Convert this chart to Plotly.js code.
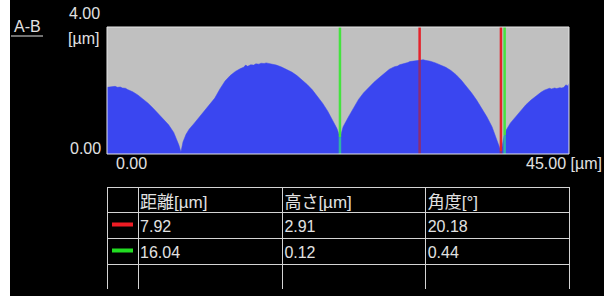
<!DOCTYPE html>
<html>
<head>
<meta charset="utf-8">
<script src="https://cdn.plot.ly/plotly-3.0.1.min.js"></script>
<style>
html,body{margin:0;padding:0;background:#ffffff;}
#chart{position:absolute;left:10px;top:0;width:594px;height:296px;}
</style>
</head>
<body>
<div id="chart"></div>
<script>
// Profile A-B (x in µm, height in µm)
const profileX = [0,0.3,0.5,0.8,1,1.3,1.5,1.8,2,2.5,3,3.5,4,4.5,5,5.5,6,6.5,6.8,7.0,7.2,7.4,7.7,8,8.5,9,9.5,10,10.5,11,11.5,12,12.5,13,13.3,13.5,13.7,14,14.3,14.5,14.8,15,15.3,15.5,15.8,16,16.3,16.5,17,17.5,18,18.5,19,19.5,20,20.5,21,21.5,22,22.4,22.7,23.0,23.5,24,24.5,25,25.5,26,26.5,27,27.5,28,28.3,28.5,28.8,29,29.3,29.5,29.8,30,30.3,30.5,30.8,31,31.3,31.5,32,32.5,33,33.5,34,34.5,35,35.5,36,36.5,37,37.5,37.9,38.2,38.4,38.6,38.9,39.3,39.8,40.3,40.8,41.3,41.8,42.1,42.3,42.6,42.8,43.1,43.3,43.6,43.8,44.1,44.3,44.5,44.7,44.9,45];
const profileY = [2.10,2.12,2.11,2.13,2.10,2.11,2.08,2.07,2.03,1.96,1.86,1.74,1.60,1.44,1.27,1.10,0.92,0.68,0.45,0.28,0.06,0.38,0.62,0.78,0.97,1.16,1.38,1.56,1.76,2.05,2.30,2.47,2.60,2.69,2.73,2.80,2.76,2.81,2.80,2.84,2.83,2.86,2.85,2.87,2.85,2.84,2.82,2.80,2.74,2.67,2.58,2.47,2.34,2.19,2.02,1.82,1.60,1.35,1.07,0.80,0.52,0.86,1.16,1.46,1.72,1.93,2.10,2.26,2.40,2.55,2.67,2.75,2.77,2.81,2.83,2.86,2.88,2.91,2.92,2.94,2.96,2.96,2.97,2.95,2.94,2.92,2.87,2.81,2.73,2.63,2.50,2.33,2.14,1.93,1.70,1.45,1.17,0.86,0.50,0.25,0.06,0.45,0.76,0.98,1.18,1.38,1.55,1.70,1.84,1.90,1.95,2.01,2.04,2.07,2.05,2.08,2.06,2.09,2.08,2.10,2.18,2.14,2.22,2.20];

// Cursor positions (µm)
const redCursors = [30.45, 38.37];
const greenCursors = [22.69, 38.73];

// Result table
const headers = ["", "距離[µm]", "高さ[µm]", "角度[°]"];
const rowDistance = ["7.92", "16.04", ""];
const rowHeight = ["2.91", "0.12", ""];
const rowAngle = ["20.18", "0.44", ""];

// Axis labels
const xRange = [0, 45];
const yRange = [0, 4];
const xMinLabel = "0.00", xMaxLabel = "45.00 [µm]";
const yMinLabel = "0.00", yMaxLabel = "4.00", yUnit = "[µm]";
const profileName = "A-B";

const W = 594, H = 296, ML = 97, MR = 35, MT = 27, MB = 7;
const PW = W - ML - MR, PH = H - MT - MB;
const plotBottomPx = 154, tableTopPx = 187;
const py = p => (H - MB - p) / PH;   // page y px -> paper
const px = p => (p - 10 - ML) / PW;  // page x px -> paper

function interp(x) {
  for (let i = 1; i < profileX.length; i++) {
    if (x <= profileX[i]) {
      const t = (x - profileX[i-1]) / (profileX[i] - profileX[i-1]);
      return profileY[i-1] + t * (profileY[i] - profileY[i-1]);
    }
  }
  return profileY[profileY.length - 1];
}

const textCol = '#e2e2e2';
const font = 'Liberation Sans, Arial, Noto Sans CJK JP, sans-serif';

const shapes = [];
function cursor(x, top, inner) {
  const v = interp(x);
  shapes.push({type:'line', xref:'x', yref:'y', x0:x, x1:x, y0:v, y1:yRange[1], line:{color:top, width:2.5}});
  shapes.push({type:'line', xref:'x', yref:'y', x0:x, x1:x, y0:yRange[0], y1:v, line:{color:inner, width:2.5}});
}
greenCursors.forEach(x => cursor(x, '#45e33f', '#2fb3a6'));
redCursors.forEach(x => cursor(x, '#e4222a', '#8e2d72'));
shapes.push({type:'rect', xref:'x domain', yref:'y domain', x0:0, x1:1, y0:0, y1:1, line:{color:'#e6e6e6', width:1}});
// legend markers in table
shapes.push({type:'line', xref:'paper', yref:'paper', x0:px(112), x1:px(133), y0:py(224.5), y1:py(224.5), line:{color:'#ee1c24', width:4}});
shapes.push({type:'line', xref:'paper', yref:'paper', x0:px(112), x1:px(133), y0:py(250.5), y1:py(250.5), line:{color:'#22dd22', width:4}});
// A-B underline
shapes.push({type:'line', xref:'paper', yref:'paper', x0:px(11), x1:px(43), y0:py(36), y1:py(36), line:{color:textCol, width:1}});

const ann = (text, x, y, xa, size) => ({text, xref:'paper', yref:'paper', x:px(x), y:py(y), xanchor:xa, yanchor:'middle', showarrow:false, font:{family:font, size:size || 16, color:textCol}});
const annotations = [
  ann(yMaxLabel, 102, 14, 'right'),
  ann(yUnit, 101, 38, 'right'),
  ann(yMinLabel, 103, 148, 'right'),
  ann(xMinLabel, 114, 164, 'left'),
  ann(xMaxLabel, 604, 164, 'right'),
  ann(profileName, 12, 26, 'left', 16)
];

const data = [
  {type:'scatter', x:profileX, y:profileY, mode:'lines', fill:'tozeroy', fillcolor:'#3a46f0', line:{color:'#3a46f0', width:0.5}, hoverinfo:'skip'},
  {type:'table', domain:{x:[0,1], y:[0, py(tableTopPx)]},
   columnwidth:[31,144,143,143],
   header:{values:headers, align:'left', height:25, fill:{color:'#000000'}, line:{color:'#d4d4d4', width:1}, font:{family:font, size:17, color:textCol}},
   cells:{values:[["","",""], rowDistance, rowHeight, rowAngle], align:'left', height:26, fill:{color:'#000000'}, line:{color:'#d4d4d4', width:1}, font:{family:font, size:16, color:textCol}}
  }
];

const layout = {
  width:W, height:H, margin:{l:ML, r:MR, t:MT, b:MB},
  paper_bgcolor:'#000000', plot_bgcolor:'#c0c0c0', showlegend:false,
  xaxis:{range:xRange, showticklabels:false, showgrid:false, zeroline:false, ticks:'', fixedrange:true},
  yaxis:{range:yRange, domain:[py(plotBottomPx), 1], showticklabels:false, showgrid:false, zeroline:false, ticks:'', fixedrange:true},
  shapes, annotations
};
Plotly.newPlot('chart', data, layout, {staticPlot:true, displayModeBar:false}).then(() => {
  // table text sits close to the left cell border in the reference
  document.querySelectorAll('#chart .cell-text').forEach(el => { el.style.transform = 'translate(-6px, 0px)'; });
});
</script>
</body>
</html>
